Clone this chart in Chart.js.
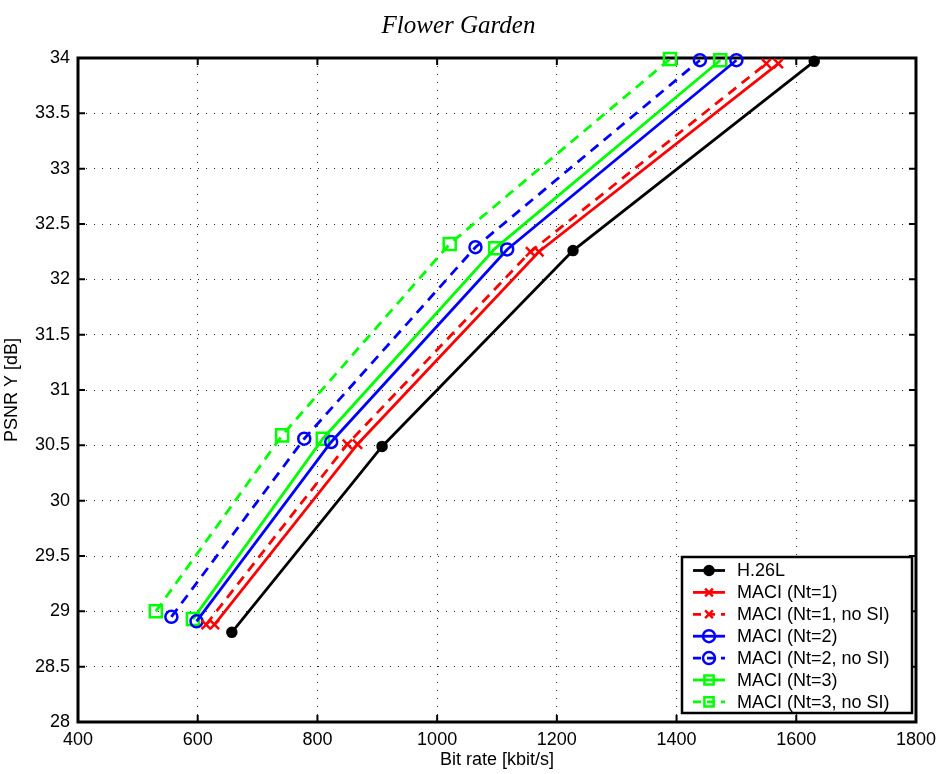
<!DOCTYPE html>
<html><head><meta charset="utf-8">
<script src="https://cdn.jsdelivr.net/npm/chart.js@4/dist/chart.umd.min.js"></script>
<style>html,body{margin:0;padding:0;background:#fff;}</style>
</head><body>
<canvas id="c" width="943" height="774" style="display:block;width:943px;height:774px"></canvas>
<script>
// ---- data ----
const chartTitle = 'Flower Garden';
const xAxisLabel = 'Bit rate [kbit/s]';
const yAxisLabel = 'PSNR Y [dB]';
const xMin = 400, xMax = 1800, xStep = 200;
const yMin = 28, yMax = 34, yStep = 0.5;

const seriesLabels = ['H.26L', 'MACI (Nt=1)', 'MACI (Nt=1, no SI)', 'MACI (Nt=2)', 'MACI (Nt=2, no SI)', 'MACI (Nt=3)', 'MACI (Nt=3, no SI)'];

const h26lRate   = [657, 908, 1227, 1630];
const h26lPsnr   = [28.81, 30.49, 32.26, 33.97];
const nt1Rate    = [628, 867, 1170, 1570];
const nt1Psnr    = [28.88, 30.51, 32.25, 33.95];
const nt1NoSiRate = [614, 850, 1156, 1550];
const nt1NoSiPsnr = [28.88, 30.51, 32.25, 33.95];
const nt2Rate    = [598, 823, 1117, 1500];
const nt2Psnr    = [28.91, 30.53, 32.27, 33.98];
const nt2NoSiRate = [556, 778, 1064, 1439];
const nt2NoSiPsnr = [28.95, 30.56, 32.29, 33.98];
const nt3Rate    = [592, 809, 1097, 1473];
const nt3Psnr    = [28.93, 30.56, 32.28, 33.98];
const nt3NoSiRate = [530, 741, 1021, 1389];
const nt3NoSiPsnr = [29.00, 30.59, 32.32, 33.99];

// ---- styling ----
const SANS = "'Liberation Sans', Arial, Helvetica, sans-serif";
const pts = (xs, ys) => xs.map((x, i) => ({x: x, y: ys[i]}));
function mk(label, xs, ys, color, dashed, style, radius, fill) {
  return {
    label: label,
    data: pts(xs, ys),
    showLine: true,
    borderColor: color,
    backgroundColor: color,
    borderWidth: 2.8,
    borderDash: dashed ? [10, 7] : [],
    pointStyle: style,
    pointRadius: radius,
    pointHoverRadius: radius,
    pointBorderWidth: 2.5,
    pointBorderColor: color,
    pointBackgroundColor: fill ? color : 'rgba(0,0,0,0)',
    clip: false,
    tension: 0
  };
}
const datasets = [
  mk(seriesLabels[0], h26lRate, h26lPsnr, '#000000', false, 'circle', 4.5, true),
  mk(seriesLabels[1], nt1Rate, nt1Psnr, '#ff0000', false, 'crossRot', 6.5, false),
  mk(seriesLabels[2], nt1NoSiRate, nt1NoSiPsnr, '#ff0000', true, 'crossRot', 6.5, false),
  mk(seriesLabels[3], nt2Rate, nt2Psnr, '#0000ff', false, 'circle', 6, false),
  mk(seriesLabels[4], nt2NoSiRate, nt2NoSiPsnr, '#0000ff', true, 'circle', 6, false),
  mk(seriesLabels[5], nt3Rate, nt3Psnr, '#00ff00', false, 'rect', 8.5, false),
  mk(seriesLabels[6], nt3NoSiRate, nt3NoSiPsnr, '#00ff00', true, 'rect', 8.5, false)
];

const framePlugin = {
  id: 'frame',
  beforeDatasetsDraw(chart) {
    const {ctx, chartArea: a, scales} = chart;
    ctx.save();
    ctx.strokeStyle = '#000';
    ctx.lineWidth = 2;
    const tl = 7;
    scales.x.ticks.forEach(t => {
      const px = scales.x.getPixelForValue(t.value);
      ctx.beginPath();
      ctx.moveTo(px, a.bottom); ctx.lineTo(px, a.bottom - tl);
      ctx.moveTo(px, a.top); ctx.lineTo(px, a.top + tl);
      ctx.stroke();
    });
    scales.y.ticks.forEach(t => {
      const py = scales.y.getPixelForValue(t.value);
      ctx.beginPath();
      ctx.moveTo(a.left, py); ctx.lineTo(a.left + tl, py);
      ctx.moveTo(a.right, py); ctx.lineTo(a.right - tl, py);
      ctx.stroke();
    });
    ctx.lineWidth = 3;
    ctx.strokeRect(a.left, a.top, a.right - a.left, a.bottom - a.top);
    ctx.restore();
  }
};

function drawMarker(ctx, ds, x, y) {
  ctx.save();
  ctx.setLineDash([]);
  ctx.fillStyle = ds.pointBackgroundColor;
  ctx.strokeStyle = ds.pointBorderColor;
  ctx.lineWidth = ds.pointBorderWidth;
  if (Chart.helpers && Chart.helpers.drawPoint) {
    Chart.helpers.drawPoint(ctx, {pointStyle: ds.pointStyle, radius: ds.pointRadius, borderWidth: ds.pointBorderWidth, rotation: 0}, x, y);
  } else {
    ctx.beginPath(); ctx.arc(x, y, ds.pointRadius, 0, Math.PI * 2); ctx.fill(); ctx.stroke();
  }
  ctx.restore();
}

const legendPlugin = {
  id: 'boxLegend',
  afterDatasetsDraw(chart) {
    const ctx = chart.ctx;
    const x0 = 682, y0 = 557, w = 230, h = 156;
    ctx.save();
    ctx.fillStyle = '#fff';
    ctx.fillRect(x0, y0, w, h);
    ctx.lineWidth = 2.5;
    ctx.strokeStyle = '#000';
    ctx.strokeRect(x0, y0, w, h);
    ctx.font = '18px ' + SANS;
    ctx.textBaseline = 'middle';
    ctx.textAlign = 'left';
    chart.data.datasets.forEach((ds, i) => {
      const y = y0 + 13.5 + i * 21.9;
      ctx.save();
      ctx.strokeStyle = ds.borderColor;
      ctx.lineWidth = ds.borderWidth;
      ctx.setLineDash(ds.borderDash.length ? [8, 6] : []);
      ctx.beginPath(); ctx.moveTo(693, y); ctx.lineTo(725, y); ctx.stroke();
      ctx.restore();
      drawMarker(ctx, Object.assign({}, ds, {pointRadius: ds.pointStyle === 'rect' ? 6.5 : (ds.pointStyle === 'crossRot' ? 5.5 : ds.pointRadius)}), 709, y);
      ctx.fillStyle = '#000';
      ctx.fillText(ds.label, 737, y + 1);
    });
    ctx.restore();
  }
};

const plainLabel = v => String(v);

new Chart(document.getElementById('c'), {
  type: 'scatter',
  data: {datasets: datasets},
  options: {
    responsive: false,
    animation: false,
    events: [],
    layout: {padding: {left: 0, right: 26, top: 0, bottom: 0}},
    plugins: {
      legend: {display: false},
      tooltip: {enabled: false},
      title: {
        display: true,
        text: chartTitle,
        color: '#000',
        font: {family: "'Liberation Serif', 'Times New Roman', serif", style: 'italic', weight: 'normal', size: 25},
        padding: {top: 11, bottom: 17}
      }
    },
    scales: {
      x: {
        type: 'linear',
        min: xMin, max: xMax,
        afterFit: s => { s.height = 52; },
        ticks: {stepSize: xStep, color: '#000', padding: 7, font: {family: SANS, size: 18}, maxRotation: 0, callback: plainLabel},
        grid: {color: 'rgba(0,0,0,0.85)', lineWidth: 1, drawTicks: false},
        border: {display: false, dash: [1, 7]},
        title: {display: true, text: xAxisLabel, color: '#000', font: {family: SANS, size: 18}, padding: {top: 0, bottom: 3}}
      },
      y: {
        type: 'linear',
        min: yMin, max: yMax,
        afterFit: s => { s.width = 78; },
        ticks: {stepSize: yStep, color: '#000', padding: 8, font: {family: SANS, size: 18}, callback: plainLabel},
        grid: {color: 'rgba(0,0,0,0.85)', lineWidth: 1, drawTicks: false},
        border: {display: false, dash: [1, 7]},
        title: {display: true, text: yAxisLabel, color: '#000', font: {family: SANS, size: 18}, padding: {top: 1, bottom: 0}}
      }
    }
  },
  plugins: [framePlugin, legendPlugin]
});
</script>
</body></html>
